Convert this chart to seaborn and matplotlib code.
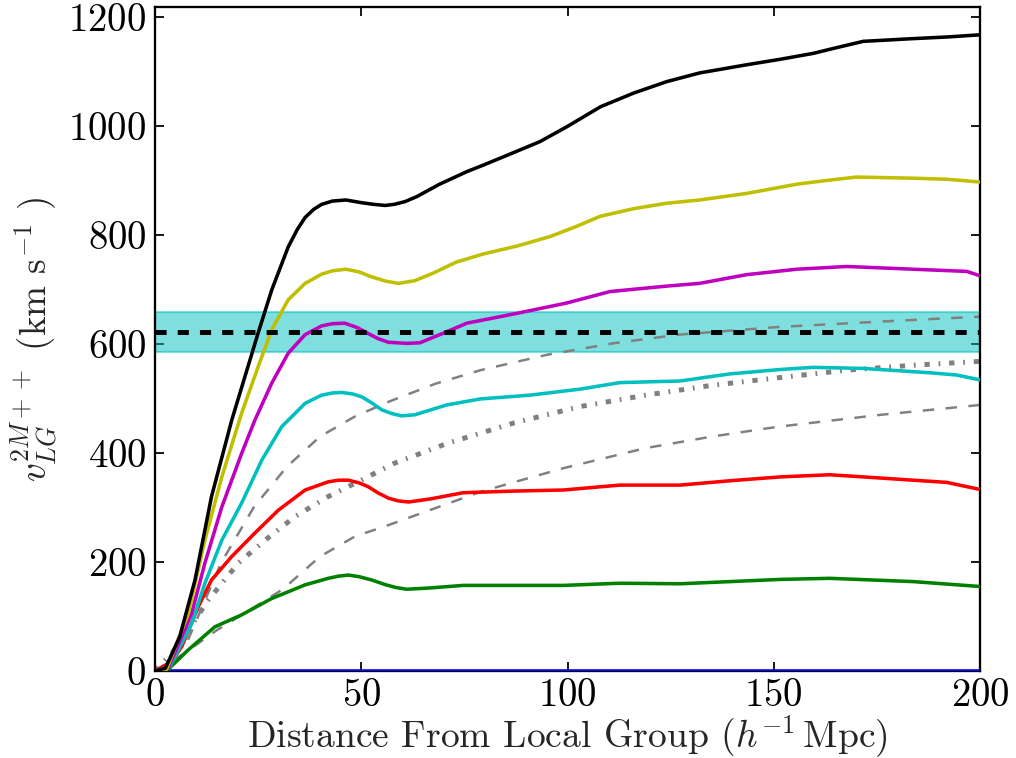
import numpy as np
import pandas as pd
import matplotlib
matplotlib.use("Agg")
import matplotlib.pyplot as plt
import seaborn as sns

# ---------------- data ----------------
black_x = [0, 2.5, 6, 9.7, 13.7, 18.6, 21.8, 25, 28.3, 32.3, 34.5, 36.4, 38.5, 40.4, 43, 46.3, 50.1, 53, 55.8, 58, 60.6, 63.4, 69, 75.6, 79.6, 86, 93.3, 100, 108, 116, 124, 132, 143.4, 151.5, 159.6, 165, 171.7, 183.8, 192, 200]
black_y = [0, 5, 63, 167, 320, 460, 540, 620, 699, 778, 810, 832, 847, 856, 862, 864, 859, 856, 854, 856, 861, 870, 893, 916, 928, 948, 971, 999, 1035, 1060, 1081, 1097, 1112, 1122, 1133, 1143, 1155, 1160, 1163, 1167]

yellow_x = [0, 2.8, 8.1, 12.1, 16.2, 21, 25, 28.3, 32.3, 36.4, 40.4, 43, 46.3, 49.5, 52.5, 56, 59, 63, 67.5, 73, 79.6, 88, 95.8, 102, 107.9, 116, 124, 132, 143.4, 155.6, 163, 170, 183.8, 192, 200]
yellow_y = [0, 3, 106, 240, 356, 473, 558, 626, 681, 711, 728, 734, 737, 732, 723, 715, 711, 716, 730, 750, 765, 780, 797, 815, 834, 848, 858, 864, 876, 893, 900, 906, 904, 902, 897]

magenta_x = [0, 3.2, 8.9, 12.1, 16.2, 21, 24.2, 28.3, 32.3, 36.4, 40.4, 43, 46, 49, 51.7, 54, 56.6, 61, 64.2, 70, 75.6, 87.7, 99.8, 110.3, 124, 132, 143.4, 155.6, 167.7, 183.8, 196.8, 200]
magenta_y = [0, 5, 106, 198, 301, 399, 460, 528, 583, 617, 633, 637, 638, 630, 619, 610, 603, 601, 602, 620, 638, 656, 675, 696, 706, 711, 727, 737, 742, 737, 733, 725]

cyan_x = [0, 3.6, 8.9, 12.1, 16.2, 21, 25.9, 30.7, 36.4, 40.4, 43, 45.3, 48, 50.1, 52.5, 55, 57.5, 59.8, 63, 70.7, 78.8, 90.9, 103, 112.7, 127.3, 139.4, 151.5, 159.6, 171.7, 187.9, 194.3, 200]
cyan_y = [0, 8, 87, 161, 240, 308, 387, 448, 491, 506, 510, 511, 508, 503, 492, 479, 472, 468, 470, 488, 499, 506, 517, 529, 532, 545, 553, 557, 555, 547, 543, 534]

red_x = [0, 4, 6.5, 10.5, 13.7, 18.6, 24.2, 29.9, 36.4, 42, 44.5, 46.9, 49.5, 51.7, 54, 56.6, 59, 61.5, 67, 74.7, 86.8, 99, 112.7, 127.3, 139.4, 151.5, 163.6, 175.8, 191.9, 200]
red_y = [0, 17, 45, 118, 167, 210, 253, 295, 332, 347, 350, 350, 345, 338, 327, 317, 312, 310, 316, 327, 330, 332, 341, 341, 349, 356, 360, 354, 346, 333]

green_x = [0, 3.2, 8.1, 14.5, 21, 28.3, 36.4, 42, 44.5, 46.9, 49.5, 52.5, 56, 58.5, 61, 66, 74.7, 99, 112.7, 127.3, 139.4, 151.5, 163.6, 183.8, 200]
green_y = [0, 3, 39, 81, 103, 133, 158, 170, 174, 176, 173, 167, 158, 153, 150, 152, 157, 157, 161, 160, 164, 168, 170, 164, 155]

blue_x = [0, 200]
blue_y = [0, 0]

upper_dash_x = [0, 4, 8, 16, 24, 32, 40, 48.5, 57, 68, 79, 95, 111, 127, 151, 176, 200]
upper_dash_y = [0, 20, 57, 198, 301, 375, 430, 467, 495, 527, 552, 580, 601, 617, 631, 641, 650]

dashdot_x = [0, 4.8, 8.1, 12.9, 20.2, 26.7, 33.9, 42, 50, 58, 71, 87, 103, 119, 135, 150, 168, 184, 200]
dashdot_y = [0, 39, 75, 130, 198, 240, 283, 320, 350, 381, 418, 455, 485, 506, 524, 537, 552, 561, 568]

lower_dash_x = [0, 7, 15, 23, 31, 40, 48.5, 56, 79, 99, 119, 135, 151, 176, 200]
lower_dash_y = [0, 32, 75, 112, 150, 210, 247, 266, 329, 372, 409, 430, 448, 470, 488]

lg_velocity = 622
lg_low = 585
lg_high = 659

xticks = [0, 50, 100, 150, 200]
yticks = [0, 200, 400, 600, 800, 1000, 1200]

# classic matplotlib single-letter colours
COL = {"b": "#0000ff", "g": "#008000", "r": "#ff0000", "c": "#00bfbf",
       "m": "#bf00bf", "y": "#bfbf00", "k": "#000000", "gray": "#808080"}

# ---------------- style ----------------
sns.set_theme(style="ticks")
plt.rcParams.update({
    "font.family": ["cmr10", "DejaVu Serif"],
    "mathtext.fontset": "cm",
    "axes.formatter.use_mathtext": True,
    "lines.scale_dashes": False,
    "axes.linewidth": 1.3,
    "axes.edgecolor": "black",
    "xtick.direction": "in",
    "ytick.direction": "in",
    "xtick.top": True,
    "ytick.right": True,
    "xtick.major.size": 5,
    "ytick.major.size": 5,
    "xtick.major.width": 1.0,
    "ytick.major.width": 1.0,
    "xtick.color": "black",
    "ytick.color": "black",
})

DPI = 127
fig = plt.figure(figsize=(1016 / DPI, 758 / DPI), dpi=DPI)
ax = fig.add_axes([155 / 1016, 1 - 671 / 758, (980 - 155) / 1016, (671 - 7) / 758])

# observed LG velocity band
ax.axhspan(lg_low, lg_high, facecolor=COL["c"], edgecolor=COL["c"], alpha=0.5, lw=1.2, zorder=1)

solid = [
    (blue_x, blue_y, "b"),
    (green_x, green_y, "g"),
    (red_x, red_y, "r"),
    (cyan_x, cyan_y, "c"),
    (magenta_x, magenta_y, "m"),
    (yellow_x, yellow_y, "y"),
    (black_x, black_y, "k"),
]
for xs, ys, col in solid:
    sns.lineplot(x=xs, y=ys, ax=ax, color=COL[col], lw=2.0, sort=False, zorder=3)

for xs, ys in [(upper_dash_x, upper_dash_y), (lower_dash_x, lower_dash_y)]:
    sns.lineplot(x=xs, y=ys, ax=ax, color=COL["gray"], lw=1.4, sort=False, zorder=2)
    ax.lines[-1].set_dashes((6.5, 6.5))

sns.lineplot(x=dashdot_x, y=dashdot_y, ax=ax, color=COL["gray"], lw=2.8, sort=False, zorder=2)
ax.lines[-1].set_dashes((3, 5, 1, 5))

sns.lineplot(x=[0, 200], y=[lg_velocity, lg_velocity], ax=ax, color=COL["k"], lw=2.8, sort=False, zorder=4)
ax.lines[-1].set_dashes((6.3, 6.3))

ax.set_xlim(0, 200)
ax.set_ylim(0, 1218)
ax.set_xticks(xticks)
ax.set_yticks(yticks)
ax.tick_params(labelsize=22, pad=5)
ax.tick_params(axis="x", pad=4)
ax.set_xlabel(r"Distance From Local Group ($h^{-1}\,$Mpc)", fontsize=21.3, labelpad=0)
ax.set_ylabel(r"$v_{LG}^{2M++}$ (km s$^{-1}$ )", fontsize=21, labelpad=5)

fig.savefig("out.png", dpi=DPI)
